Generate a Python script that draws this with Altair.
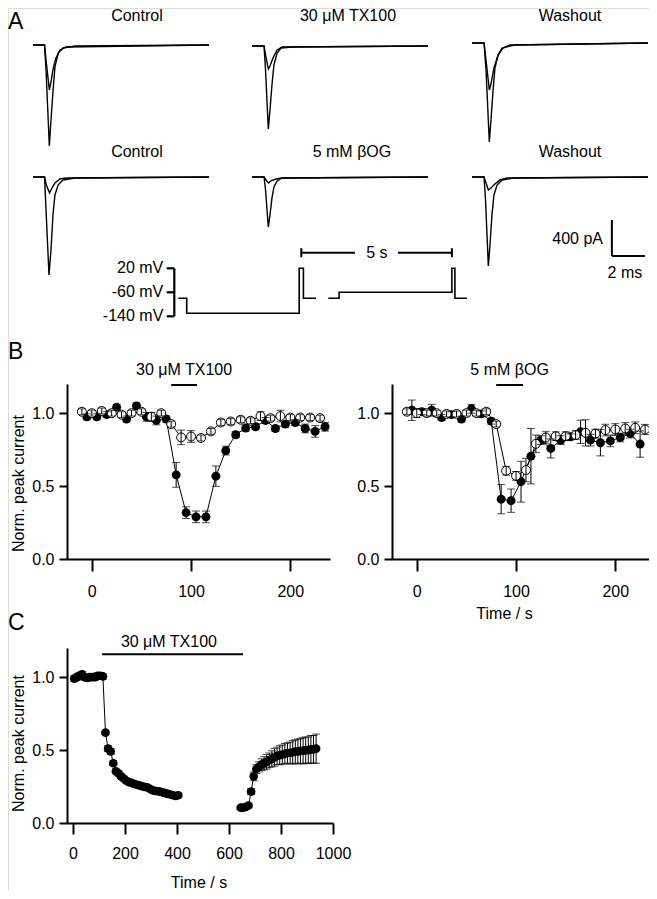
import altair as alt
import pandas as pd

FONT = "Liberation Sans"
BLACK = "#000000"

# ---------------- Panel A: current traces (time / ms, current / pA) ----------------
A1_CTRL_BIG_T = [0, 0.70, 0.79, 0.99, 1.09, 1.21, 1.33, 1.53, 1.82, 2.55, 10.67]
A1_CTRL_BIG_I = [0, 0, -278, -1122, -833, -522, -244, -89, -33, -11, 0]
A1_CTRL_SML_T = [0, 0.70, 0.79, 0.99, 1.09, 1.23, 1.39, 1.64, 2.00, 10.67]
A1_CTRL_SML_I = [0, 0, -167, -500, -411, -256, -144, -56, -22, 0]

A1_TX_BIG_T = [0, 0.73, 0.82, 0.99, 1.09, 1.21, 1.33, 1.52, 1.76, 2.42, 10.67]
A1_TX_BIG_I = [0, 0, -267, -922, -711, -433, -211, -78, -22, -11, 0]
A1_TX_SML_T = [0, 0.73, 0.82, 0.99, 1.09, 1.27, 1.52, 1.82, 10.67]
A1_TX_SML_I = [0, 0, -100, -256, -222, -133, -44, -11, 0]

A1_WASH_BIG_T = [0, 0.73, 0.85, 1.05, 1.15, 1.27, 1.39, 1.58, 1.82, 2.55, 10.67]
A1_WASH_BIG_I = [0, 0, -300, -1100, -856, -544, -278, -133, -56, -22, 0]
A1_WASH_SML_T = [0, 0.73, 0.85, 1.05, 1.15, 1.33, 1.58, 1.88, 2.30, 10.67]
A1_WASH_SML_I = [0, 0, -189, -522, -456, -278, -133, -56, -22, 0]

A2_CTRL_BIG_T = [0, 0.70, 0.79, 0.97, 1.09, 1.21, 1.33, 1.52, 1.82, 2.55, 10.67]
A2_CTRL_BIG_I = [0, 0, -367, -1089, -811, -422, -200, -89, -33, -11, 0]
A2_CTRL_SML_T = [0, 0.70, 0.79, 1.00, 1.15, 1.33, 1.64, 2.00, 10.67]
A2_CTRL_SML_I = [0, 0, -78, -178, -122, -67, -22, -11, 0]

A2_BOG_BIG_T = [0, 0.73, 0.82, 0.99, 1.09, 1.21, 1.33, 1.52, 1.82, 10.67]
A2_BOG_BIG_I = [0, 0, -144, -556, -422, -233, -111, -44, -11, 0]
A2_BOG_SML_T = [0, 0.73, 0.85, 1.00, 1.15, 1.45, 1.82, 10.67]
A2_BOG_SML_I = [0, 0, -33, -67, -44, -22, -11, 0]

A2_WASH_BIG_T = [0, 0.73, 0.82, 0.99, 1.09, 1.21, 1.33, 1.52, 1.82, 2.55, 10.67]
A2_WASH_BIG_I = [0, 0, -256, -989, -756, -422, -200, -89, -33, -11, 0]
A2_WASH_SML_T = [0, 0.73, 0.85, 0.99, 1.15, 1.39, 1.70, 2.12, 10.67]
A2_WASH_SML_I = [0, 0, -67, -144, -122, -78, -33, -11, 0]

A_TITLES_ROW1 = ["Control", "30 \u03bcM TX100", "Washout"]
A_TITLES_ROW2 = ["Control", "5 mM \u03b2OG", "Washout"]

SCALEBAR_PA = 400
SCALEBAR_MS = 2

# voltage protocol (schematic time / s, voltage / mV), step-after
PROT1_T = [0, 0.28, 4.03, 4.17, 4.59]
PROT1_V = [-80, -130, 20, -80, -80]
PROT2_T = [5.00, 5.36, 9.12, 9.22, 9.62]
PROT2_V = [-80, -60, 20, -80, -80]
PROT_LEVELS = [20, -60, -140]
PROT_LABELS = ["20 mV", "-60 mV", "-140 mV"]
INTERVAL_S = [4.10, 9.12]
INTERVAL_LABEL = "5 s"

# ---------------- Panel B left: 30 uM TX100 ----------------
BL_F_T = [-5, 5, 15, 25, 35, 45, 55, 65, 75, 85, 95, 105, 115, 125, 135, 145, 155, 165, 175, 185, 195, 205, 215, 225, 235]
BL_F_Y = [0.975, 0.975, 0.99, 1.04, 0.96, 1.05, 0.975, 0.95, 0.96, 0.577, 0.318, 0.289, 0.289, 0.568, 0.743, 0.852, 0.898, 0.907, 0.95, 0.895, 0.925, 0.936, 0.895, 0.875, 0.907]
BL_F_E = [0.02, 0.02, 0.02, 0.02, 0.02, 0.02, 0.03, 0.03, 0.02, 0.085, 0.04, 0.04, 0.04, 0.07, 0.03, 0.02, 0.02, 0.02, 0.02, 0.02, 0.02, 0.02, 0.03, 0.04, 0.03]
BL_O_T = [-10, 0, 10, 20, 30, 40, 50, 60, 70, 80, 90, 100, 110, 120, 130, 140, 150, 160, 170, 180, 190, 200, 210, 220, 230]
BL_O_Y = [1.01, 1.0, 1.015, 1.0, 0.99, 1.0, 1.01, 0.975, 1.0, 0.925, 0.834, 0.84, 0.83, 0.875, 0.936, 0.943, 0.955, 0.948, 0.98, 0.966, 0.98, 0.97, 0.97, 0.97, 0.966]
BL_O_E = [0.02, 0.02, 0.02, 0.02, 0.02, 0.02, 0.02, 0.03, 0.02, 0.02, 0.05, 0.04, 0.02, 0.02, 0.02, 0.02, 0.02, 0.02, 0.03, 0.02, 0.04, 0.02, 0.02, 0.02, 0.02]
BL_BAR = [80, 106]
BL_LABEL = "30 \u03bcM TX100"

# ---------------- Panel B right: 5 mM bOG ----------------
BR_F_T = [-5, 5, 15, 25, 35, 45, 55, 65, 75, 85, 95, 105, 115, 125, 135, 145, 155, 165, 175, 185, 195, 205, 215, 225]
BR_F_Y = [1.02, 1.01, 1.02, 0.97, 0.99, 0.96, 1.03, 0.995, 0.945, 0.41, 0.40, 0.53, 0.705, 0.815, 0.758, 0.815, 0.838, 0.872, 0.815, 0.797, 0.81, 0.833, 0.86, 0.788]
BR_F_E = [0.07, 0.02, 0.04, 0.02, 0.02, 0.02, 0.03, 0.02, 0.02, 0.10, 0.08, 0.14, 0.19, 0.03, 0.065, 0.03, 0.02, 0.08, 0.04, 0.09, 0.04, 0.03, 0.03, 0.09]
BR_O_T = [-10, 0, 10, 20, 30, 40, 50, 60, 70, 80, 90, 100, 110, 120, 130, 140, 150, 160, 170, 180, 190, 200, 210, 220, 230]
BR_O_Y = [1.01, 1.0, 1.0, 1.0, 0.995, 0.995, 1.0, 1.0, 1.01, 0.925, 0.605, 0.57, 0.61, 0.79, 0.833, 0.842, 0.842, 0.85, 0.865, 0.86, 0.884, 0.888, 0.895, 0.90, 0.888]
BR_O_E = [0.02, 0.03, 0.02, 0.02, 0.02, 0.02, 0.02, 0.02, 0.02, 0.02, 0.03, 0.03, 0.08, 0.06, 0.04, 0.03, 0.03, 0.03, 0.09, 0.03, 0.04, 0.04, 0.04, 0.04, 0.035]
BR_BAR = [80, 107]
BR_LABEL = "5 mM \u03b2OG"

# ---------------- Panel C: long TX100 application ----------------
C1_T = [5, 15, 25, 35, 45, 55, 65, 75, 85, 95, 105, 115,
        125, 135, 145, 155, 165, 175, 185, 195, 205, 215, 225, 235, 245, 255, 265, 275, 285, 295,
        305, 315, 325, 335, 345, 355, 365, 375, 385, 395, 405]
C1_Y = [0.99, 1.0, 1.01, 1.02, 1.0, 0.995, 1.0, 1.0, 1.0, 1.01, 1.01, 1.005,
        0.62, 0.51, 0.49, 0.41, 0.355, 0.34, 0.32, 0.305, 0.29, 0.28, 0.275, 0.268, 0.262, 0.258, 0.252, 0.248, 0.245, 0.235,
        0.225, 0.22, 0.218, 0.215, 0.21, 0.205, 0.20, 0.195, 0.19, 0.185, 0.19]
C1_E = [0.02, 0.02, 0.02, 0.02, 0.02, 0.02, 0.02, 0.02, 0.02, 0.02, 0.02, 0.02,
        0.01, 0.02, 0.02, 0.015, 0.015, 0.015, 0.015, 0.015, 0.015, 0.015, 0.015, 0.015, 0.015, 0.015, 0.015, 0.015, 0.015, 0.015,
        0.015, 0.015, 0.015, 0.015, 0.015, 0.015, 0.015, 0.015, 0.015, 0.015, 0.015]
C2_T = [645, 655, 665, 675, 685, 695, 705, 715, 725, 735, 745, 755, 765, 775, 785,
        795, 805, 815, 825, 835, 845, 855, 865, 875, 885, 895, 905, 915, 925, 935]
C2_Y = [0.105, 0.105, 0.11, 0.12, 0.215, 0.32, 0.37, 0.385, 0.40, 0.41, 0.42, 0.43, 0.44, 0.45, 0.46,
        0.465, 0.47, 0.475, 0.48, 0.48, 0.485, 0.49, 0.49, 0.495, 0.495, 0.50, 0.50, 0.505, 0.505, 0.51]
C2_E = [0.01, 0.01, 0.01, 0.015, 0.02, 0.03, 0.03, 0.035, 0.04, 0.045, 0.05, 0.05, 0.055, 0.06, 0.06,
        0.065, 0.065, 0.07, 0.07, 0.075, 0.08, 0.08, 0.085, 0.085, 0.09, 0.09, 0.09, 0.095, 0.095, 0.10]
C_BAR = [112, 654]
C_LABEL = "30 \u03bcM TX100"

# ---------------- layout (page pixels -> chart pixels) ----------------
W, H = 641, 883


def lin(domain, rng):
    return alt.Scale(domain=domain, range=rng, nice=False, zero=False)


def X(field, scale, axis=None):
    return alt.X(f"{field}:Q", scale=scale, axis=axis)


def Y(field, scale, axis=None):
    return alt.Y(f"{field}:Q", scale=scale, axis=axis)


AX = dict(domainColor=BLACK, tickColor=BLACK, labelColor=BLACK, titleColor=BLACK,
          domainWidth=2, tickWidth=2, labelFont=FONT, titleFont=FONT,
          labelFontSize=16, titleFontSize=16, titleFontWeight="normal",
          grid=False, labelOverlap=False, labelFlush=False)


def text_layer(df, xs, ys, size=16, align="center"):
    return alt.Chart(df).mark_text(font=FONT, fontSize=size, color=BLACK, align=align,
                                   baseline="middle").encode(x=X("t", xs), y=Y("v", ys), text="label:N")


layers = []

# ---------- Panel A ----------
trace_panels = [
    # (x0 page, baseline page, big T, big I, small T, small I)
    (33, 45, A1_CTRL_BIG_T, A1_CTRL_BIG_I, A1_CTRL_SML_T, A1_CTRL_SML_I),
    (252, 46, A1_TX_BIG_T, A1_TX_BIG_I, A1_TX_SML_T, A1_TX_SML_I),
    (472, 43, A1_WASH_BIG_T, A1_WASH_BIG_I, A1_WASH_SML_T, A1_WASH_SML_I),
    (33, 177, A2_CTRL_BIG_T, A2_CTRL_BIG_I, A2_CTRL_SML_T, A2_CTRL_SML_I),
    (252, 177, A2_BOG_BIG_T, A2_BOG_BIG_I, A2_BOG_SML_T, A2_BOG_SML_I),
    (472, 177, A2_WASH_BIG_T, A2_WASH_BIG_I, A2_WASH_SML_T, A2_WASH_SML_I),
]
title_pos = [(6.30, 322), (5.82, 333), (5.94, 300), (6.30, 278), (6.06, 278), (5.94, 278)]
titles = A_TITLES_ROW1 + A_TITLES_ROW2
trace_scales = []
for k, (x0, base, bt, bi, st, si) in enumerate(trace_panels):
    xs = lin([0, 10.67], [x0 - 8, x0 - 8 + 176])
    ys = lin([-1300, 100], [base - 8 + 117, base - 8 - 9])
    trace_scales.append((xs, ys))
    df = pd.DataFrame({"t": bt + st, "v": bi + si,
                       "trace": ["big"] * len(bt) + ["small"] * len(st)})
    layers.append(alt.Chart(df).mark_line(color=BLACK, strokeWidth=1.4).encode(
        x=X("t", xs), y=Y("v", ys), detail="trace:N"))
    tdf = pd.DataFrame({"t": [title_pos[k][0]], "v": [title_pos[k][1]], "label": [titles[k]]})
    layers.append(text_layer(tdf, xs, ys))

# panel letter A
xs, ys = trace_scales[0]
layers.append(text_layer(pd.DataFrame({"t": [-1.52], "v": [260], "label": ["A"]}), xs, ys, size=23, align="left"))

# scale bar in last trace panel
xs, ys = trace_scales[5]
sb_t0, sb_i0 = 8.48, -878
sb = pd.DataFrame({"t": [sb_t0, sb_t0], "t2": [sb_t0, sb_t0 + SCALEBAR_MS],
                   "v": [sb_i0 + SCALEBAR_PA, sb_i0], "v2": [sb_i0, sb_i0]})
layers.append(alt.Chart(sb).mark_rule(color=BLACK, strokeWidth=2).encode(
    x=X("t", xs), x2="t2:Q", y=Y("v", ys), y2="v2:Q"))
layers.append(text_layer(pd.DataFrame({"t": [7.94], "v": [-689], "label": [f"{SCALEBAR_PA} pA"]}), xs, ys, align="right"))
layers.append(text_layer(pd.DataFrame({"t": [9.27], "v": [-1067], "label": [f"{SCALEBAR_MS} ms"]}), xs, ys))

# voltage protocol
PXS = lin([-1, 10], [140.3, 470.3])
PYS = lin([-160, 100], [314.3, 236.3])
prot = pd.DataFrame({"t": PROT1_T + PROT2_T, "v": PROT1_V + PROT2_V,
                     "sweep": ["1"] * len(PROT1_T) + ["2"] * len(PROT2_T)})
layers.append(alt.Chart(prot).mark_line(color=BLACK, strokeWidth=1.6, interpolate="step-after").encode(
    x=X("t", PXS), y=Y("v", PYS), detail="sweep:N"))
brk = pd.DataFrame({"t": [-0.133] + [-0.387] * 3, "t2": [-0.133] * 4,
                    "v": [PROT_LEVELS[0]] + PROT_LEVELS, "v2": [PROT_LEVELS[-1]] + PROT_LEVELS})
layers.append(alt.Chart(brk).mark_rule(color=BLACK, strokeWidth=2.2).encode(
    x=X("t", PXS), x2="t2:Q", y=Y("v", PYS), y2="v2:Q"))
layers.append(text_layer(pd.DataFrame({"t": [-0.5] * 3, "v": PROT_LEVELS, "label": PROT_LABELS}), PXS, PYS, align="right"))
iv = pd.DataFrame({"t": [INTERVAL_S[0], 7.32, INTERVAL_S[0], INTERVAL_S[1]],
                   "t2": [5.89, INTERVAL_S[1], INTERVAL_S[0], INTERVAL_S[1]],
                   "v": [72, 72, 57, 57], "v2": [72, 72, 87, 87]})
layers.append(alt.Chart(iv).mark_rule(color=BLACK, strokeWidth=2).encode(
    x=X("t", PXS), x2="t2:Q", y=Y("v", PYS), y2="v2:Q"))
layers.append(text_layer(pd.DataFrame({"t": [6.62], "v": [72], "label": [INTERVAL_LABEL]}), PXS, PYS))


# ---------- Panels B and C ----------
def frame(t, v, e):
    d = pd.DataFrame({"t": t, "v": v, "e": e})
    d["lo"] = d["v"] - d["e"]
    d["hi"] = d["v"] + d["e"]
    return d


def errbars(d, xs, ys, cap=8):
    out = [alt.Chart(d).mark_rule(color=BLACK, strokeWidth=1).encode(
        x=X("t", xs), y=Y("lo", ys), y2="hi:Q")]
    for col in ("lo", "hi"):
        out.append(alt.Chart(d).mark_tick(orient="horizontal", size=cap, thickness=1, color=BLACK).encode(
            x=X("t", xs), y=Y(col, ys)))
    return out


def panel_b(ft, fy, fe, ot, oy, oe, xs, ys, xaxis, yaxis, bar, label):
    f = frame(ft, fy, fe)
    o = frame(ot, oy, oe)
    out = [
        alt.Chart(f).mark_line(color=BLACK, strokeWidth=1).encode(x=X("t", xs, xaxis), y=Y("v", ys, yaxis)),
        alt.Chart(o).mark_line(color=BLACK, strokeWidth=1).encode(x=X("t", xs), y=Y("v", ys)),
        alt.Chart(f).mark_circle(size=80, color=BLACK, opacity=1).encode(x=X("t", xs), y=Y("v", ys)),
        alt.Chart(o).mark_point(shape="circle", size=80, filled=True, fill="white", stroke=BLACK,
                                strokeWidth=1, opacity=1).encode(x=X("t", xs), y=Y("v", ys)),
    ]
    out += errbars(f, xs, ys) + errbars(o, xs, ys)
    bd = pd.DataFrame({"t": [bar[0]], "t2": [bar[1]], "v": [1.193]})
    out.append(alt.Chart(bd).mark_rule(color=BLACK, strokeWidth=2).encode(x=X("t", xs), x2="t2:Q", y=Y("v", ys)))
    out.append(text_layer(pd.DataFrame({"t": [(bar[0] + bar[1]) / 2], "v": [1.296], "label": [label]}), xs, ys))
    return out


BY = lin([0, 1.2], [551, 376])
BLX = lin([-25, 240], [59, 322])
BRX = lin([-25, 240], [384, 647])

bl_x_axis = alt.Axis(orient="bottom", offset=551 - H, values=[0, 100, 200], format="d", tickSize=12,
                     labelPadding=12, title=None, **AX)
bl_y_axis = alt.Axis(orient="left", offset=-59, values=[0, 0.5, 1.0], format=".1f", tickSize=8,
                     labelPadding=5, title="Norm. peak current", titleX=-49, titleY=475,
                     titleAngle=270, titleBaseline="middle", titleAlign="center", **AX)
br_x_axis = alt.Axis(orient="bottom", offset=551 - H, values=[0, 100, 200], format="d", tickSize=12,
                     labelPadding=12, title="Time / s", titleX=496, titleY=54,
                     titleBaseline="middle", titleAlign="center", **AX)
br_y_axis = alt.Axis(orient="left", offset=-384, values=[0, 0.5, 1.0], format=".1f", tickSize=8,
                     labelPadding=5, title=None, **AX)

layers += panel_b(BL_F_T, BL_F_Y, BL_F_E, BL_O_T, BL_O_Y, BL_O_E, BLX, BY, bl_x_axis, bl_y_axis, BL_BAR, BL_LABEL)
layers += panel_b(BR_F_T, BR_F_Y, BR_F_E, BR_O_T, BR_O_Y, BR_O_E, BRX, BY, br_x_axis, br_y_axis, BR_BAR, BR_LABEL)
layers.append(text_layer(pd.DataFrame({"t": [-84.4], "v": [1.42], "label": ["B"]}), BLX, BY, size=23, align="left"))

CX = lin([-23, 1000], [59, 325])
CY = lin([0, 1.2], [815, 640])
c_x_axis = alt.Axis(orient="bottom", offset=815 - H, values=[0, 200, 400, 600, 800, 1000], format="d",
                    tickSize=11, labelPadding=11, title="Time / s", titleX=190.5, titleY=59,
                    titleBaseline="middle", titleAlign="center", **AX)
c_y_axis = alt.Axis(orient="left", offset=-59, values=[0, 0.5, 1.0], format=".1f", tickSize=8,
                    labelPadding=5, title="Norm. peak current", titleX=-49, titleY=735,
                    titleAngle=270, titleBaseline="middle", titleAlign="center", **AX)
c = pd.concat([frame(C1_T, C1_Y, C1_E).assign(seg="1"), frame(C2_T, C2_Y, C2_E).assign(seg="2")])
layers.append(alt.Chart(c).mark_line(color=BLACK, strokeWidth=1).encode(
    x=X("t", CX, c_x_axis), y=Y("v", CY, c_y_axis), detail="seg:N"))
layers.append(alt.Chart(c).mark_circle(size=75, color=BLACK, opacity=1).encode(x=X("t", CX), y=Y("v", CY)))
layers += errbars(c, CX, CY)
cb = pd.DataFrame({"t": [C_BAR[0]], "t2": [C_BAR[1]], "v": [1.157]})
layers.append(alt.Chart(cb).mark_rule(color=BLACK, strokeWidth=2).encode(x=X("t", CX), x2="t2:Q", y=Y("v", CY)))
layers.append(text_layer(pd.DataFrame({"t": [369], "v": [1.24], "label": [C_LABEL]}), CX, CY))
layers.append(text_layer(pd.DataFrame({"t": [-249.9], "v": [1.372], "label": ["C"]}), CX, CY, size=23, align="left"))

chart = (
    alt.layer(*layers)
    .resolve_scale(x="independent", y="independent")
    .properties(width=W, height=H, padding=0, autosize=alt.AutoSizeParams(type="none"))
    .configure_view(stroke="transparent", strokeWidth=0)
    .configure(font=FONT)
)

chart.save("out.html", embed_options={"renderer": "svg", "actions": False})
